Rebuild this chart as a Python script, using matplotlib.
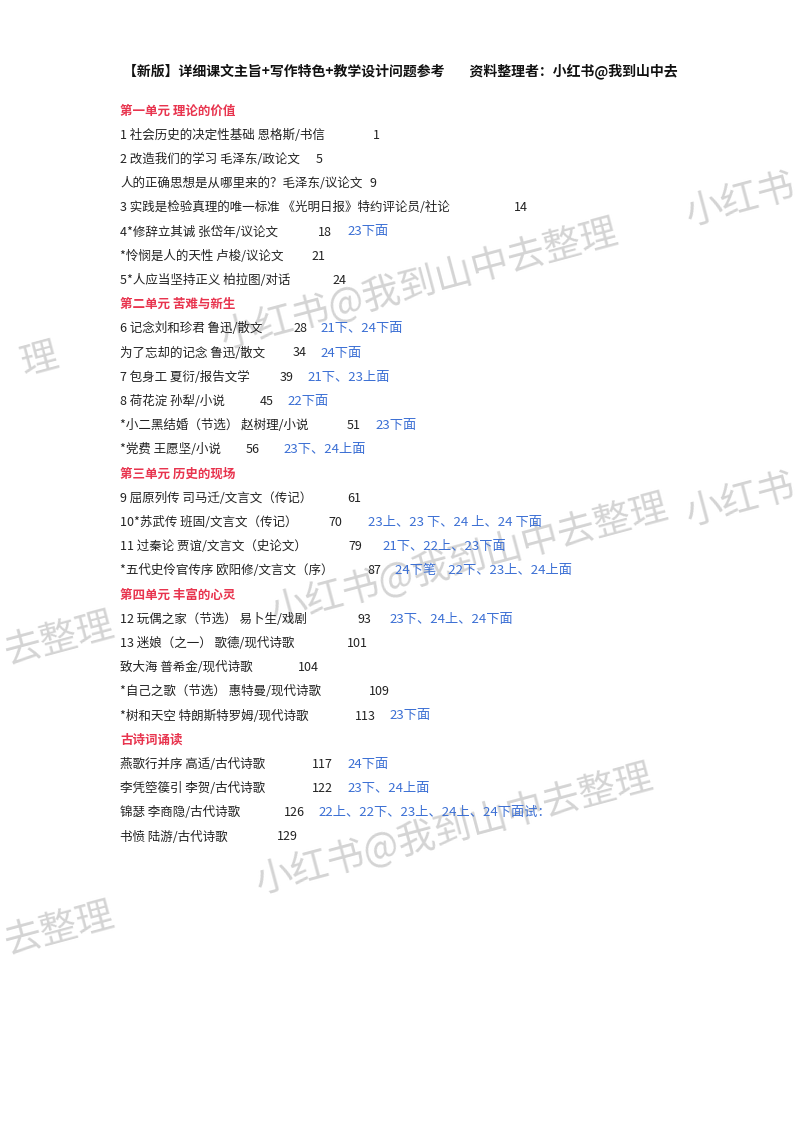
import matplotlib
matplotlib.use('Agg')
from matplotlib import pyplot as plt

plt.rcParams['font.family'] = ['Noto Sans CJK SC', 'DejaVu Sans']

header = '【新版】详细课文主旨+写作特色+教学设计问题参考'
header2 = '资料整理者：小红书@我到山中去'

# rows: (kind, text, page, note)
rows = [
    ('unit', '第一单元 理论的价值', '', ''),
    ('item', '1 社会历史的决定性基础 恩格斯/书信', '1', ''),
    ('item', '2 改造我们的学习 毛泽东/政论文', '5', ''),
    ('item', '人的正确思想是从哪里来的？毛泽东/议论文', '9', ''),
    ('item', '3 实践是检验真理的唯一标准 《光明日报》特约评论员/社论', '14', ''),
    ('item', '4*修辞立其诚 张岱年/议论文', '18', '23下面'),
    ('item', '*怜悯是人的天性 卢梭/议论文', '21', ''),
    ('item', '5*人应当坚持正义 柏拉图/对话', '24', ''),
    ('unit', '第二单元 苦难与新生', '', ''),
    ('item', '6 记念刘和珍君 鲁迅/散文', '28', '21下、24下面'),
    ('item', '为了忘却的记念 鲁迅/散文', '34', '24下面'),
    ('item', '7 包身工 夏衍/报告文学', '39', '21下、23上面'),
    ('item', '8 荷花淀 孙犁/小说', '45', '22下面'),
    ('item', '*小二黑结婚（节选） 赵树理/小说', '51', '23下面'),
    ('item', '*党费 王愿坚/小说', '56', '23下、24上面'),
    ('unit', '第三单元 历史的现场', '', ''),
    ('item', '9 屈原列传 司马迁/文言文（传记）', '61', ''),
    ('item', '10*苏武传 班固/文言文（传记）', '70', '23上、23 下、24 上、24 下面'),
    ('item', '11 过秦论 贾谊/文言文（史论文）', '79', '21下、22上、23下面'),
    ('item', '*五代史伶官传序 欧阳修/文言文（序）', '87', '24下笔    22下、23上、24上面'),
    ('unit', '第四单元 丰富的心灵', '', ''),
    ('item', '12 玩偶之家（节选） 易卜生/戏剧', '93', '23下、24上、24下面'),
    ('item', '13 迷娘（之一） 歌德/现代诗歌', '101', ''),
    ('item', '致大海 普希金/现代诗歌', '104', ''),
    ('item', '*自己之歌（节选） 惠特曼/现代诗歌', '109', ''),
    ('item', '*树和天空 特朗斯特罗姆/现代诗歌', '113', '23下面'),
    ('unit', '古诗词诵读', '', ''),
    ('item', '燕歌行并序 高适/古代诗歌', '117', '24下面'),
    ('item', '李凭箜篌引 李贺/古代诗歌', '122', '23下、24上面'),
    ('item', '锦瑟 李商隐/古代诗歌', '126', '22上、22下、23上、24上、24下面试：'),
    ('item', '书愤 陆游/古代诗歌', '129', ''),
]
# page number / note x positions in pixels
page_x = [0, 373, 316, 369, 514, 318, 311, 332, 0, 293, 293, 280, 260, 347, 246,
          0, 347, 328, 348, 367, 0, 358, 347, 298, 369, 355, 0, 312, 312, 284, 277]
note_x = [0, 0, 0, 0, 0, 347, 0, 0, 0, 320, 320, 307, 287, 375, 283,
          0, 0, 368, 382, 395, 0, 389, 0, 0, 0, 389, 0, 347, 347, 318, 0]

W, H = 800, 1132
fig = plt.figure(figsize=(8, 11.32), dpi=100)
ax = fig.add_axes([0, 0, 1, 1])
ax.set_xlim(0, W)
ax.set_ylim(H, 0)
ax.axis('off')

# watermarks
wm = '#d4d4d4'
ax.text(420, 285, '小红书@我到山中去整理', fontsize=27, color=wm, rotation=15,
        ha='center', va='center', zorder=0)
ax.text(455, 830, '小红书@我到山中去整理', fontsize=27, color=wm, rotation=15,
        ha='center', va='center', zorder=0)
ax.text(470, 560, '小红书@我到山中去整理', fontsize=27, color=wm, rotation=15,
        ha='center', va='center', zorder=0)
ax.text(800, 200, '小红书', fontsize=27, color=wm, rotation=15, ha='right', va='center', zorder=0)
ax.text(800, 500, '小红书', fontsize=27, color=wm, rotation=15, ha='right', va='center', zorder=0)
ax.text(0, 640, '去整理', fontsize=27, color=wm, rotation=15, ha='left', va='center', zorder=0)
ax.text(0, 930, '去整理', fontsize=27, color=wm, rotation=15, ha='left', va='center', zorder=0)
ax.text(40, 360, '理', fontsize=27, color=wm, rotation=15, ha='center', va='center', zorder=0)

ax.text(400, 71, header + '        ' + header2, fontsize=10, fontweight='bold',
        ha='center', va='center', color='#111111')

y0, dy = 111, 24.2
for i, (kind, txt, page, note) in enumerate(rows):
    y = y0 + i * dy
    if kind == 'unit':
        ax.text(120, y, txt, fontsize=9, fontweight='bold', color='#e8344e', va='center')
        continue
    ax.text(120, y, txt, fontsize=9, color='#222222', va='center')
    ax.text(page_x[i], y, page, fontsize=9, color='#222222', va='center')
    if note:
        ax.text(note_x[i], y, note, fontsize=9.5, color='#3b6fd4', va='center')

fig.savefig('out.png', dpi=100, facecolor='white')
